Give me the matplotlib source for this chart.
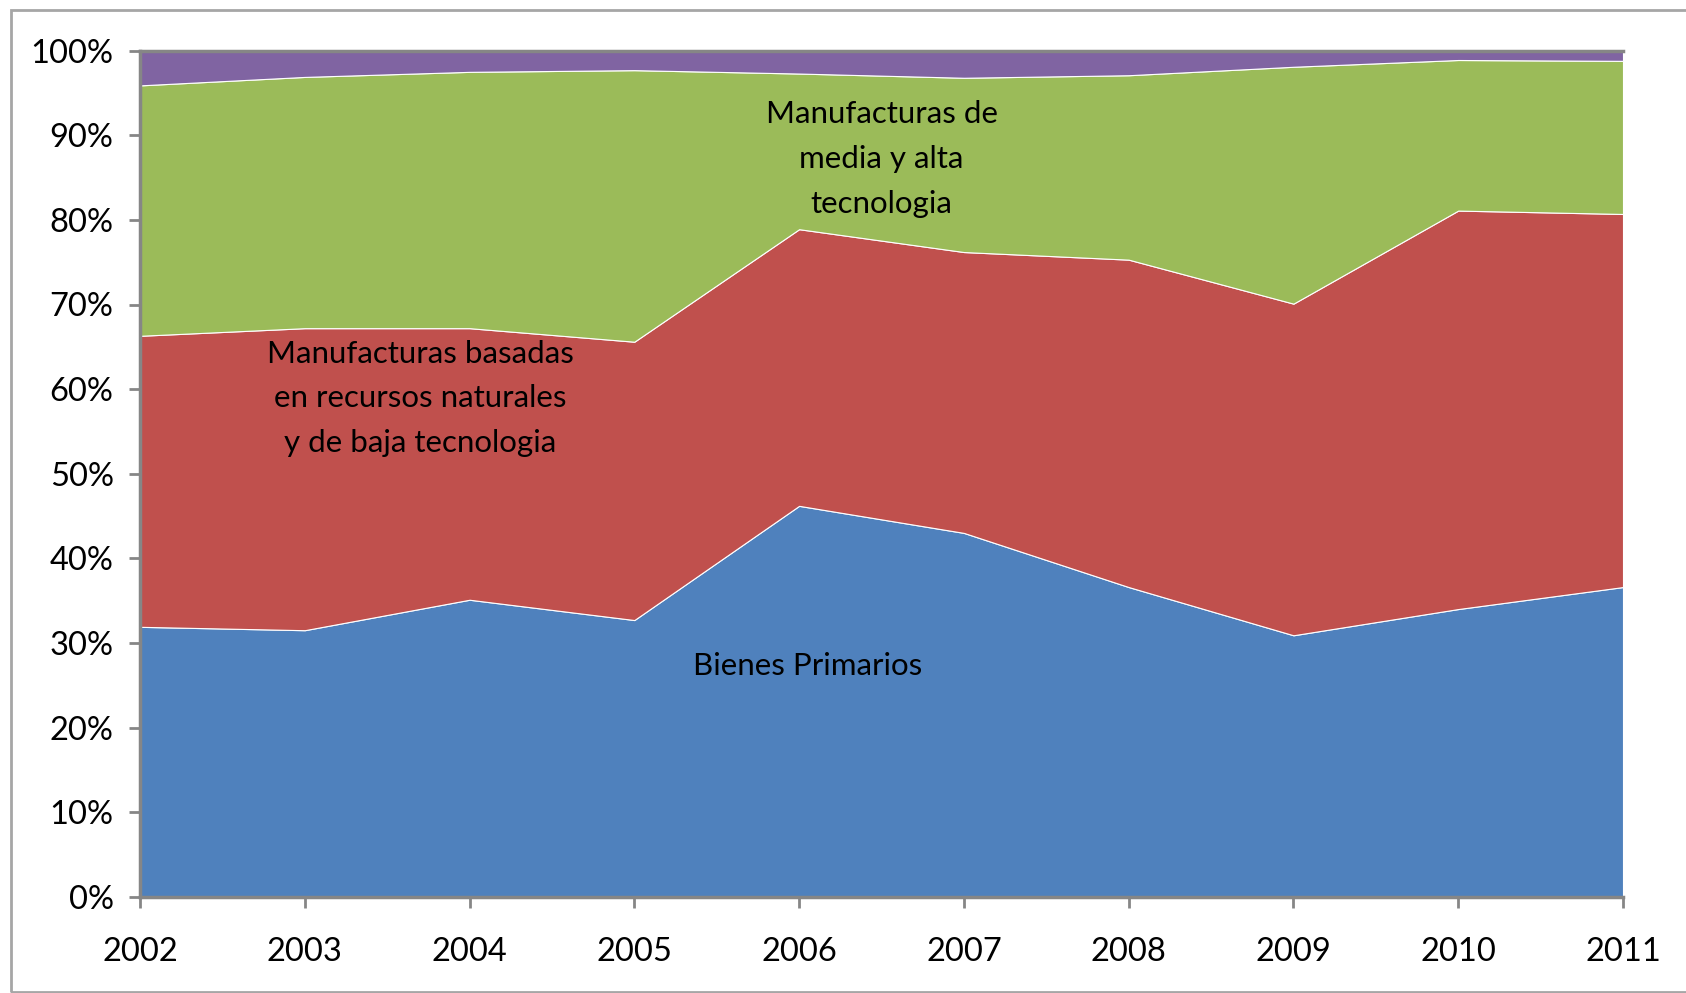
import matplotlib
matplotlib.use("Agg")
import matplotlib.pyplot as plt
from matplotlib.patches import Rectangle
from matplotlib.ticker import FuncFormatter, MultipleLocator

years = [2002, 2003, 2004, 2005, 2006, 2007, 2008, 2009, 2010, 2011]
bienes_primarios = [31.9, 31.5, 35.1, 32.7, 46.2, 43.0, 36.6, 30.9, 34.0, 36.6]
manuf_recursos_baja = [34.4, 35.7, 32.1, 32.9, 32.7, 33.2, 38.7, 39.2, 47.1, 44.1]
manuf_media_alta = [29.6, 29.7, 30.3, 32.1, 18.4, 20.6, 21.8, 28.0, 17.8, 18.1]
otros = [4.1, 3.1, 2.5, 2.3, 2.7, 3.2, 2.9, 1.9, 1.1, 1.2]

colors = ["#4F81BD", "#C0504D", "#9BBB59", "#8064A2"]
FONT = ["Lato", "DejaVu Sans"]
plt.rcParams["font.family"] = FONT

W, H = 1686, 993
fig = plt.figure(figsize=(W / 100, H / 100), dpi=100)
ax = fig.add_axes([140 / W, 1 - 896.7 / H, (1623 - 140) / W, (896.7 - 50.7) / H])

ax.stackplot(years, bienes_primarios, manuf_recursos_baja, manuf_media_alta, otros,
             colors=colors, edgecolor="white", linewidth=0.8)

ax.set_xlim(years[0], years[-1])
ax.set_ylim(0, 100)
ax.yaxis.set_major_locator(MultipleLocator(10))
ax.yaxis.set_major_formatter(FuncFormatter(lambda v, p: f"{int(round(v))}%"))
ax.set_xticks(years)
ax.set_xticklabels([str(y) for y in years])

gray = "#868686"
for s in ["left", "bottom", "top"]:
    ax.spines[s].set_color(gray)
    ax.spines[s].set_linewidth(2.5)
ax.spines["right"].set_visible(False)
ax.tick_params(axis="y", direction="out", length=8, width=2, color=gray,
               labelsize=23.5, pad=11)
ax.tick_params(axis="x", direction="out", length=8, width=2, color=gray,
               labelsize=23.5, pad=21)

ax.text(2006.5, 87.2, "Manufacturas de\nmedia y alta\ntecnologia", ha="center", va="center",
        fontsize=22.5, linespacing=1.72, color="black")
ax.text(2003.7, 58.9, "Manufacturas basadas\nen recursos naturales\ny de baja tecnologia",
        ha="center", va="center", fontsize=22.5, linespacing=1.72, color="black")
ax.text(2006.05, 27.3, "Bienes Primarios", ha="center", va="center", fontsize=22.5, color="black")

fig.patches.append(Rectangle((11 / W, 1 - 992 / H), (W + 10) / W, (992 - 10) / H,
                             transform=fig.transFigure, fill=False,
                             edgecolor="#A6A6A6", linewidth=2))

fig.savefig("out.png", dpi=100)
